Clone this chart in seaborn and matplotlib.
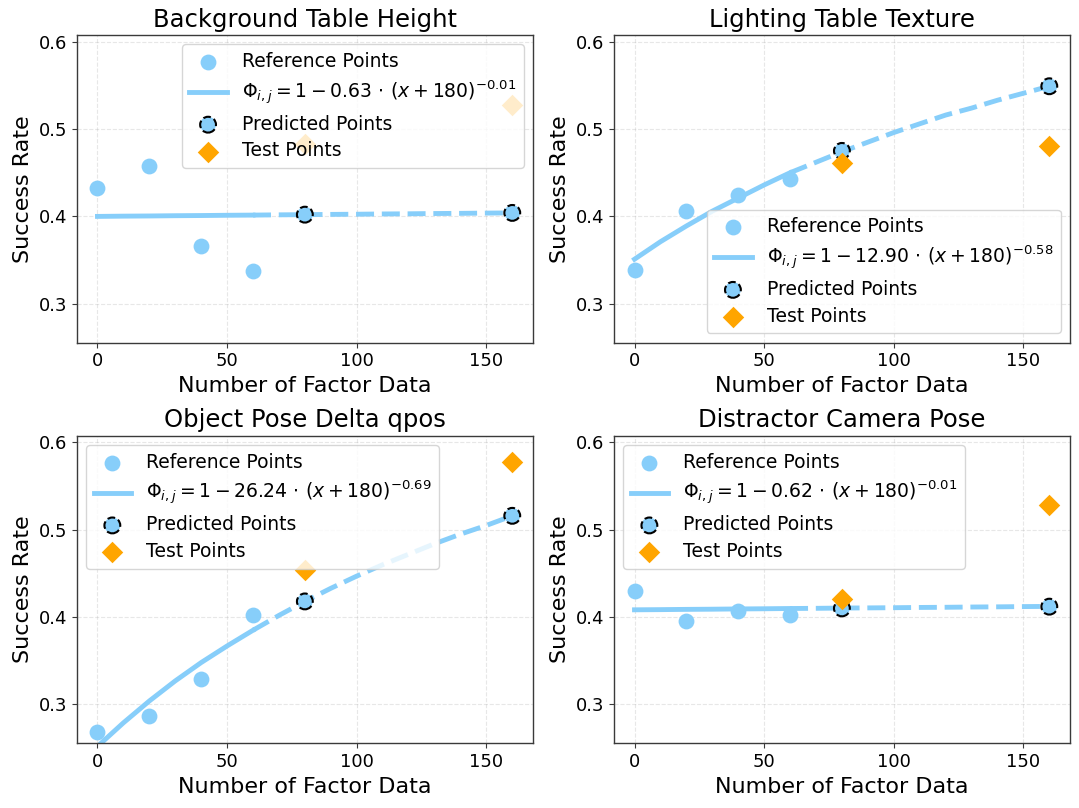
import numpy as np
import pandas as pd
import matplotlib
matplotlib.use("Agg")
import matplotlib.pyplot as plt
import seaborn as sns

# ---------------- data ----------------
titles = ["Background Table Height", "Lighting Table Texture",
          "Object Pose Delta qpos", "Distractor Camera Pose"]

fit_labels = [
    r"$\Phi_{i,j} = 1 - 0.63\,\cdot\,(x + 180)^{-0.01}$",
    r"$\Phi_{i,j} = 1 - 12.90\,\cdot\,(x + 180)^{-0.58}$",
    r"$\Phi_{i,j} = 1 - 26.24\,\cdot\,(x + 180)^{-0.69}$",
    r"$\Phi_{i,j} = 1 - 0.62\,\cdot\,(x + 180)^{-0.01}$",
]

ref_x = [0, 20, 40, 60]
ref_bg = [0.433, 0.458, 0.366, 0.337]
ref_light = [0.339, 0.406, 0.424, 0.443]
ref_obj = [0.269, 0.287, 0.329, 0.402]
ref_dist = [0.430, 0.396, 0.407, 0.402]

pred_x = [80, 160]
pred_bg = [0.402, 0.404]
pred_light = [0.475, 0.549]
pred_obj = [0.418, 0.516]
pred_dist = [0.410, 0.412]

test_x = [80, 160]
test_bg = [0.483, 0.527]
test_light = [0.461, 0.481]
test_obj = [0.454, 0.578]
test_dist = [0.421, 0.528]

curve_x = [0, 10, 20, 30, 40, 50, 60, 70, 80, 90, 100, 110, 120, 130, 140, 150, 160]
curve_bg = [0.4000, 0.4003, 0.4005, 0.4008, 0.4010, 0.4013, 0.4015, 0.4018, 0.4020,
            0.4023, 0.4025, 0.4028, 0.4030, 0.4033, 0.4035, 0.4038, 0.4040]
curve_light = [0.351, 0.371, 0.389, 0.406, 0.421, 0.436, 0.450, 0.462, 0.474,
               0.485, 0.496, 0.506, 0.516, 0.524, 0.533, 0.541, 0.549]
curve_obj = [0.252, 0.279, 0.304, 0.327, 0.348, 0.367, 0.385, 0.402, 0.418,
             0.433, 0.447, 0.460, 0.472, 0.484, 0.495, 0.505, 0.516]
curve_dist = [0.4084, 0.4086, 0.4089, 0.4091, 0.4094, 0.4096, 0.4099, 0.4101, 0.4104,
              0.4106, 0.4108, 0.4111, 0.4113, 0.4116, 0.4118, 0.4121, 0.4123]

split_x = 60
legend_locs = ["upper right", "lower right", "upper left", "upper left"]

refs = [ref_bg, ref_light, ref_obj, ref_dist]
preds = [pred_bg, pred_light, pred_obj, pred_dist]
tests = [test_bg, test_light, test_obj, test_dist]
curves = [curve_bg, curve_light, curve_obj, curve_dist]

BLUE = "#87CEFA"
ORANGE = "#FFA500"
SPINE = "#3a3a3a"

# ---------------- figure ----------------
fig, axes = plt.subplots(2, 2, figsize=(10.79, 8.08), dpi=100)
fig.subplots_adjust(left=0.0711, right=0.9917, top=0.9567, bottom=0.0801,
                    wspace=0.177, hspace=0.303)

for ax, title, lab, r, p, t, c, loc in zip(axes.flat, titles, fit_labels, refs, preds,
                                            tests, curves, legend_locs):
    ax.set_axisbelow(True)
    cdf = pd.DataFrame({"x": curve_x, "y": c})
    solid = cdf[cdf.x <= split_x]
    dashed = cdf[cdf.x >= split_x]

    sns.scatterplot(x=ref_x, y=r, ax=ax, s=130, color=BLUE, linewidth=0,
                    label="Reference Points", zorder=2)
    sns.lineplot(data=solid, x="x", y="y", ax=ax, color=BLUE, linewidth=3.5,
                 label=lab, zorder=2.5)
    sns.lineplot(data=dashed, x="x", y="y", ax=ax, color=BLUE, linewidth=3.5,
                 linestyle="--", zorder=2.5)
    sns.scatterplot(x=pred_x, y=p, ax=ax, s=130, color=BLUE, edgecolor="black",
                    linewidth=1.5, linestyle="--", label="Predicted Points", zorder=3)
    sns.scatterplot(x=test_x, y=t, ax=ax, s=120, color=ORANGE, marker="D",
                    linewidth=0, label="Test Points", zorder=4)

    ax.set_xlim(-8, 168)
    ax.set_ylim(0.2556, 0.6077)
    ax.set_xticks([0, 50, 100, 150])
    ax.set_yticks([0.3, 0.4, 0.5, 0.6])
    ax.tick_params(labelsize=13, color=SPINE)
    for sp in ax.spines.values():
        sp.set_color(SPINE)
        sp.set_linewidth(1.0)
    ax.grid(True, linestyle="--", alpha=0.3)
    ax.set_title(title, fontsize=17.5)
    ax.set_xlabel("Number of Factor Data", fontsize=16)
    ax.set_ylabel("Success Rate", fontsize=16)

    handles, labels = ax.get_legend_handles_labels()
    order = ["Reference Points", lab, "Predicted Points", "Test Points"]
    hmap = dict(zip(labels, handles))
    ax.legend([hmap[k] for k in order], order, loc=loc, fontsize=13.5,
              labelspacing=0.42)

fig.savefig("out.png", dpi=100)
